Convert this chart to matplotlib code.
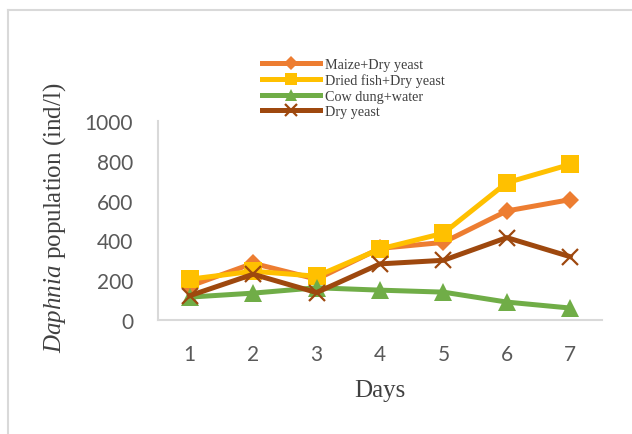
import matplotlib
matplotlib.use("Agg")
import matplotlib.pyplot as plt
from matplotlib.lines import Line2D

days = [1, 2, 3, 4, 5, 6, 7]
maize_dry_yeast = [170, 285, 205, 360, 390, 548, 605]
dried_fish_dry_yeast = [205, 245, 220, 357, 436, 690, 782]
cow_dung_water = [115, 135, 162, 150, 140, 90, 60]
dry_yeast = [122, 230, 138, 282, 300, 414, 318]

series = [
    ("Maize+Dry yeast", maize_dry_yeast, "#ED7D31", "D", 9.5),
    ("Dried fish+Dry yeast", dried_fish_dry_yeast, "#FFC000", "s", 12.5),
    ("Cow dung+water", cow_dung_water, "#70AD47", "^", 13),
    ("Dry yeast", dry_yeast, "#9E480E", "x", 12),
]

plt.rcParams["mathtext.fontset"] = "custom"
plt.rcParams["mathtext.rm"] = "Liberation Serif"
plt.rcParams["mathtext.it"] = "Liberation Serif:italic"

W, H = 632, 435
fig = plt.figure(figsize=(W / 100, H / 100), dpi=100)
ax = fig.add_axes([158 / W, 1 - 321 / H, (602 - 158) / W, (321 - 122) / H])

for label, vals, color, marker, ms in series:
    kw = dict(color=color, lw=3.6, marker=marker, markersize=ms, label=label)
    if marker == "x":
        kw.update(markeredgewidth=1.6)
    else:
        kw.update(markeredgewidth=0)
    ax.plot(days, vals, **kw)

ax.set_xlim(0.5, 7.5)
ax.set_ylim(0, 1000)
ax.set_xticks(days)
ax.set_yticks(range(0, 1001, 200))
ax.tick_params(axis="both", length=0, labelsize=15, labelcolor="#595959")
ax.tick_params(axis="x", pad=17)
ax.tick_params(axis="y", pad=18)
for lab in ax.get_xticklabels() + ax.get_yticklabels():
    lab.set_fontfamily("Lato")

for side in ("top", "right"):
    ax.spines[side].set_visible(False)
for side in ("left", "bottom"):
    ax.spines[side].set_color("#D9D9D9")
    ax.spines[side].set_linewidth(1.5)

ax.set_facecolor("none")

fig.text(380 / W, 1 - 391 / H, "Days", ha="center", va="center",
         fontsize=18, family="Liberation Serif", color="#404040")
fig.text(55 / W, 1 - 218 / H, r"$\mathit{Daphnia}$ population (ind/l)",
         ha="center", va="center", rotation=90, fontsize=18,
         family="Liberation Serif", color="#404040")

leg = fig.legend(loc="upper left", bbox_to_anchor=(262 / W, 1 - 59 / H),
                 frameon=False, borderpad=0, borderaxespad=0,
                 handlelength=4.1, handletextpad=0.35, labelspacing=0.18,
                 markerscale=0.7,
                 prop={"family": "Liberation Serif", "size": 10.2})
for t in leg.get_texts():
    t.set_color("#404040")

# chart frame (top and left edges)
fig.add_artist(Line2D([8 / W, 1], [1 - 11 / H, 1 - 11 / H], color="#D9D9D9", lw=1.5,
                      transform=fig.transFigure))
fig.add_artist(Line2D([8 / W, 8 / W], [0, 1 - 11 / H], color="#D9D9D9", lw=1.5,
                      transform=fig.transFigure))

fig.savefig("out.png", dpi=100)
